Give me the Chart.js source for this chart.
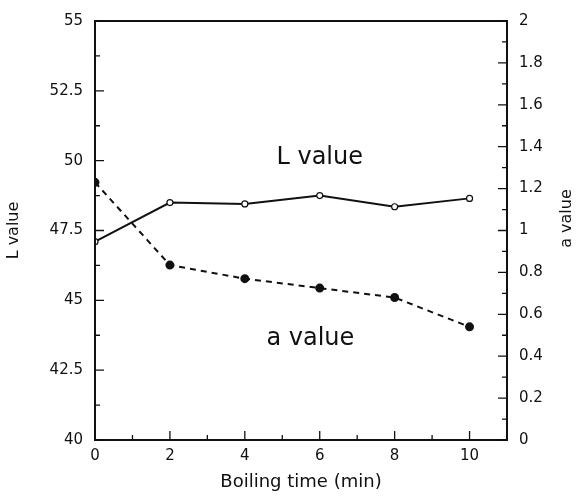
<!DOCTYPE html>
<html>
<head>
<meta charset="utf-8">
<script src="https://cdn.jsdelivr.net/npm/chart.js@4"></script>
<style>
  html, body { margin: 0; padding: 0; background: #fff; }
  .wrap { width: 580px; height: 497px; position: relative; }
</style>
</head>
<body>
<div class="wrap"><canvas id="c"></canvas></div>
<script>
// boiling time (min)
var times = [0, 2, 4, 6, 8, 10];
var lValues = [47.1, 48.5, 48.45, 48.75, 48.35, 48.65];
var aValues = [1.23, 0.835, 0.77, 0.725, 0.68, 0.54];

var xTicks = [0, 2, 4, 6, 8, 10];
var lTicks = [40, 42.5, 45, 47.5, 50, 52.5, 55];
var aTicks = [0, 0.2, 0.4, 0.6, 0.8, 1, 1.2, 1.4, 1.6, 1.8, 2];

// in-plot text labels: [text, x, value, axis]
var notes = [
  ["L value", 6, 50.1, "yL"],
  ["a value", 5.75, 0.485, "yA"]
];
var rightTitle = "a value";

var font = "'DejaVu Sans', sans-serif";

function setTicks(list) {
  return function (scale) {
    scale.ticks = list.map(v => ({ value: v }));
  };
}

// frame, inward ticks (major + minor), text notes, right axis title
var framePlugin = {
  id: "frame",
  afterDraw(chart) {
    const ctx = chart.ctx;
    const area = chart.chartArea;
    const x = chart.scales.x, yL = chart.scales.yL, yA = chart.scales.yA;
    ctx.save();
    ctx.strokeStyle = "#111";
    ctx.lineWidth = 2;
    ctx.strokeRect(area.left, area.top, area.right - area.left, area.bottom - area.top);

    ctx.lineWidth = 1.3;
    ctx.beginPath();
    for (let v = 0; v <= 11; v += 1) {
      const px = x.getPixelForValue(v);
      const len = v % 2 == 0 ? 9 : 5;
      ctx.moveTo(px, area.bottom);
      ctx.lineTo(px, area.bottom - len);
    }
    for (let v = 40; v <= 55; v += 1.25) {
      const py = yL.getPixelForValue(v);
      const len = (v * 4) % 10 == 0 ? 9 : 5;
      ctx.moveTo(area.left, py);
      ctx.lineTo(area.left + len, py);
    }
    for (let i = 0; i <= 20; i++) {
      const py = yA.getPixelForValue(i / 10);
      const len = i % 2 == 0 ? 9 : 5;
      ctx.moveTo(area.right, py);
      ctx.lineTo(area.right - len, py);
    }
    ctx.stroke();

    ctx.fillStyle = "#111";
    ctx.font = "24px " + font;
    ctx.textAlign = "center";
    ctx.textBaseline = "middle";
    notes.forEach(n => {
      ctx.fillText(n[0], x.getPixelForValue(n[1]), chart.scales[n[3]].getPixelForValue(n[2]));
    });

    // right title reads bottom-to-top like the left one
    ctx.font = "16px " + font;
    ctx.translate(yA.right - 13, (area.top + area.bottom) / 2 - 12);
    ctx.rotate(-Math.PI / 2);
    ctx.fillText(rightTitle, 0, 0);
    ctx.restore();
  }
};

new Chart(document.getElementById("c"), {
  type: "line",
  data: {
    datasets: [
      {
        label: "L value",
        data: times.map((t, i) => ({ x: t, y: lValues[i] })),
        yAxisID: "yL",
        borderColor: "#111",
        borderWidth: 2,
        pointRadius: 3,
        pointBackgroundColor: "#fff",
        pointBorderColor: "#111",
        pointBorderWidth: 1.2,
        tension: 0
      },
      {
        label: "a value",
        data: times.map((t, i) => ({ x: t, y: aValues[i] })),
        yAxisID: "yA",
        borderColor: "#111",
        borderWidth: 2,
        borderDash: [6, 5],
        pointRadius: 3.5,
        pointBackgroundColor: "#111",
        pointBorderColor: "#111",
        tension: 0
      }
    ]
  },
  options: {
    responsive: true,
    maintainAspectRatio: false,
    animation: false,
    layout: { padding: { top: 17, left: 0, right: 0, bottom: 0 } },
    plugins: { legend: { display: false }, tooltip: { enabled: false } },
    scales: {
      x: {
        type: "linear",
        min: 0,
        max: 11,
        afterBuildTicks: setTicks(xTicks),
        afterFit(s) { s.height = 57; },
        grid: { drawOnChartArea: false, drawTicks: false },
        border: { color: "#111", width: 2 },
        ticks: { padding: 7, color: "#111", font: { family: font, size: 15 }, callback: v => String(v) },
        title: { display: true, text: "Boiling time (min)", color: "#111", font: { family: font, size: 18 }, padding: { top: 2, bottom: 4 } }
      },
      yL: {
        type: "linear",
        position: "left",
        min: 40,
        max: 55,
        afterBuildTicks: setTicks(lTicks),
        afterFit(s) { s.width = 95; },
        grid: { drawOnChartArea: false, drawTicks: false },
        border: { color: "#111", width: 2 },
        ticks: { padding: 12, color: "#111", font: { family: font, size: 15 }, callback: v => String(v) },
        title: { display: true, text: "L value", color: "#111", font: { family: font, size: 16 }, padding: { top: 4, bottom: 4 } }
      },
      yA: {
        type: "linear",
        position: "right",
        min: 0,
        max: 2,
        afterBuildTicks: setTicks(aTicks),
        afterFit(s) { s.width = 73; },
        grid: { drawOnChartArea: false, drawTicks: false },
        border: { color: "#111", width: 2 },
        ticks: { padding: 12, color: "#111", font: { family: font, size: 15 }, callback: v => String(v) },
        title: { display: false }
      }
    }
  },
  plugins: [framePlugin]
});
</script>
</body>
</html>
